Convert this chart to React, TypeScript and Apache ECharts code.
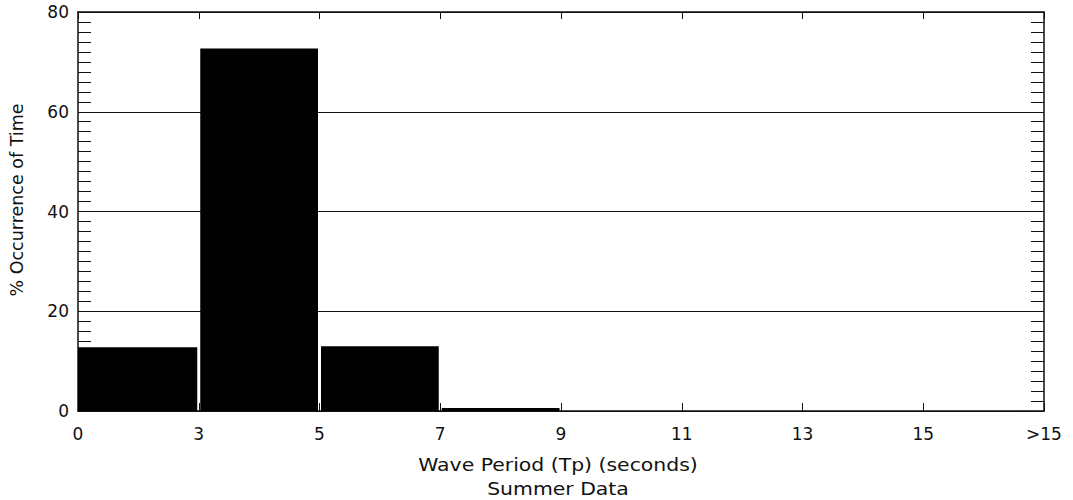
import React, { useEffect, useRef } from "react";
import * as echarts from "echarts";

// Wave period bins (edges in seconds) and their share of time, summer record
const binEdgeLabels = ["0", "3", "5", "7", "9", "11", "13", "15", ">15"];
const binStart = [0, 1, 2, 3, 4, 5, 6, 7];
const occurrence = [12.8, 72.7, 13.0, 0.6, 0, 0, 0, 0];
const yTicks = [0, 20, 40, 60, 80];

const FONT = "DejaVu Sans";
const INK = "#111";

export default function App() {
  const ref = useRef<HTMLDivElement>(null);

  useEffect(() => {
    if (!ref.current) return;
    const chart = echarts.init(ref.current, undefined, { renderer: "svg" });

    const data = binStart.map((s, i) => [s, s + 1, occurrence[i]]);
    const yMax = yTicks[yTicks.length - 1];

    const tickStyle = { color: INK, width: 1 };
    const titleStyle = {
      fontFamily: FONT,
      fontSize: 17,
      fill: INK,
      align: "center",
      verticalAlign: "middle",
    };

    chart.setOption({
      animation: false,
      backgroundColor: "#fff",
      grid: { left: 78, right: 29, top: 12, bottom: 89, containLabel: false },
      xAxis: [
        {
          type: "value",
          min: 0,
          max: binEdgeLabels.length - 1,
          interval: 1,
          position: "bottom",
          axisLine: { show: true, onZero: false, lineStyle: { color: INK, width: 1.5 } },
          axisTick: { show: true, inside: true, length: 8, lineStyle: tickStyle },
          splitLine: { show: false },
          axisLabel: {
            show: true,
            margin: 14,
            fontFamily: FONT,
            fontSize: 17,
            color: INK,
            formatter: (v: number) => binEdgeLabels[Math.round(v)] ?? "",
          },
        },
        {
          type: "value",
          min: 0,
          max: binEdgeLabels.length - 1,
          interval: 1,
          position: "top",
          axisLine: { show: true, onZero: false, lineStyle: { color: INK, width: 1.5 } },
          axisTick: { show: true, inside: true, length: 7, lineStyle: tickStyle },
          splitLine: { show: false },
          axisLabel: { show: false },
        },
      ],
      yAxis: [
        {
          type: "value",
          min: 0,
          max: yMax,
          interval: 20,
          position: "left",
          axisLine: { show: true, onZero: false, lineStyle: { color: INK, width: 1.5 } },
          axisTick: { show: true, inside: true, length: 13, lineStyle: tickStyle },
          minorTick: { show: true, splitNumber: 10, length: 13, lineStyle: tickStyle },
          splitLine: { show: true, lineStyle: { color: INK, width: 1.2 } },
          axisLabel: {
            show: true,
            margin: 9,
            fontFamily: FONT,
            fontSize: 17,
            color: INK,
          },
        },
        {
          type: "value",
          min: 0,
          max: yMax,
          interval: 20,
          position: "right",
          axisLine: { show: true, onZero: false, lineStyle: { color: INK, width: 1.5 } },
          axisTick: { show: true, inside: true, length: 13, lineStyle: tickStyle },
          minorTick: { show: true, splitNumber: 10, length: 13, lineStyle: tickStyle },
          splitLine: { show: false },
          axisLabel: { show: false },
        },
      ],
      series: [
        {
          type: "custom",
          xAxisIndex: 0,
          yAxisIndex: 0,
          data,
          encode: { x: [0, 1], y: 2 },
          renderItem: (params: any, api: any) => {
            const x0 = api.value(0);
            const x1 = api.value(1);
            const v = api.value(2);
            if (!v) return null;
            const p0 = api.coord([x0, 0]);
            const p1 = api.coord([x1, v]);
            const gap = 1.5;
            const left = x0 === 0 ? p0[0] : p0[0] + gap;
            const right = p1[0] - gap;
            return {
              type: "rect",
              shape: { x: left, y: p1[1], width: right - left, height: p0[1] - p1[1] },
              style: { fill: "#000" },
            };
          },
          z: 3,
        },
      ],
      graphic: [
        {
          type: "text",
          x: 17,
          y: 200,
          rotation: Math.PI / 2,
          scaleX: 1.03,
          style: { ...titleStyle, text: "% Occurrence of Time" },
        },
        {
          type: "text",
          x: 558,
          y: 465,
          scaleX: 1.2,
          style: { ...titleStyle, text: "Wave Period (Tp) (seconds)" },
        },
        {
          type: "text",
          x: 558,
          y: 489,
          scaleX: 1.2,
          style: { ...titleStyle, text: "Summer Data" },
        },
      ],
    });

    return () => chart.dispose();
  }, []);

  return (
    <div
      ref={ref}
      style={{ position: "fixed", left: 0, top: 0, width: 1073, height: 500, background: "#fff" }}
    />
  );
}
